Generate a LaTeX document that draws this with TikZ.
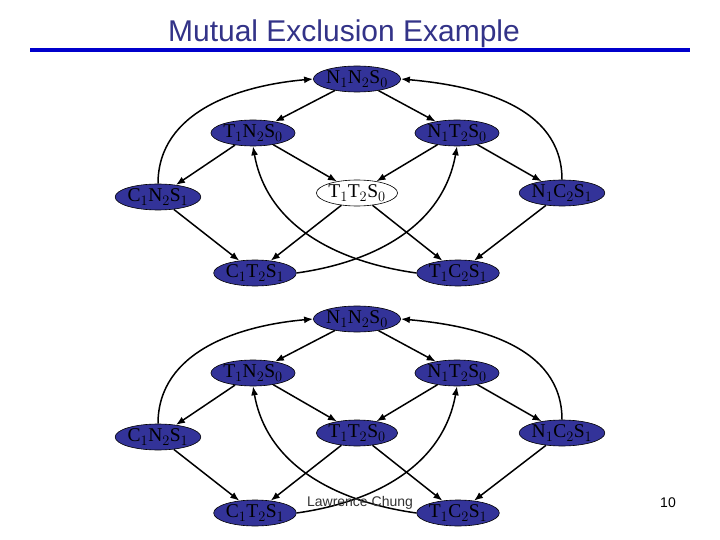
\documentclass[tikz,border=0pt]{standalone}
\usepackage{fontspec}
\setmainfont{Liberation Serif}
\newfontfamily\arialf{Liberation Sans}
\usetikzlibrary{shapes.geometric,arrows.meta}
\definecolor{stblue}{RGB}{51,51,153}
\definecolor{titleblue}{RGB}{51,51,136}
\definecolor{ruleblue}{RGB}{0,0,204}
\tikzset{
  st/.style={ellipse,draw=black,line width=0.6pt,fill=stblue,minimum width=78pt,minimum height=26pt,inner sep=0pt,font=\fontsize{19.5}{21}\selectfont},
  stw/.style={st,fill=white},
  arr/.style={line width=1.5pt,-{Latex[length=9pt,width=7pt]}},
}
\newcommand\mygraph[3]{%
  \begin{scope}[yshift=#2]
  \node[st] (#1nn) at (357,-79) {N$_1$N$_2$S$_0$};
  \node[st] (#1tn) at (253,-133) {T$_1$N$_2$S$_0$};
  \node[st] (#1nt) at (457,-133) {N$_1$T$_2$S$_0$};
  \node[st] (#1cn) at (158,-197) {C$_1$N$_2$S$_1$};
  \node[#3] (#1tt) at (357,-193) {T$_1$T$_2$S$_0$};
  \node[st] (#1nc) at (562,-193) {N$_1$C$_2$S$_1$};
  \node[st] (#1ct) at (255,-273) {C$_1$T$_2$S$_1$};
  \node[st] (#1tc) at (458,-273) {T$_1$C$_2$S$_1$};
  \end{scope}
  \draw[arr] (#1nn) -- (#1tn);
  \draw[arr] (#1nn) -- (#1nt);
  \draw[arr] (#1tn) -- (#1cn);
  \draw[arr] (#1tn) -- (#1tt);
  \draw[arr] (#1nt) -- (#1tt);
  \draw[arr] (#1nt) -- (#1nc);
  \draw[arr] (#1cn) -- (#1ct);
  \draw[arr] (#1tt) -- (#1ct);
  \draw[arr] (#1tt) -- (#1tc);
  \draw[arr] (#1nc) -- (#1tc);
  \draw[arr] (#1cn.north) to[out=90,in=185] (#1nn.west);
  \draw[arr] (#1nc.north) to[out=90,in=-5] (#1nn.east);
  \draw[arr] (#1ct.east) to[out=8,in=-100] (#1nt.south);
  \draw[arr] (#1tc.west) to[out=172,in=-80] (#1tn.south);
}
\begin{document}
\begin{tikzpicture}[x=1pt,y=1pt]
\path[use as bounding box,fill=white] (0,0) rectangle (720,-540);
\node[font=\arialf\fontsize{30}{32}\selectfont,text=titleblue,anchor=base] (title) at (344,-42) {Mutual Exclusion Example};
\fill[ruleblue] (30,-48) rectangle (690,-52);
\mygraph{a}{0pt}{stw}
\mygraph{b}{-240pt}{st}
\node[font=\arialf\fontsize{14}{16}\selectfont,text=black!80] (author) at (360,-503) {Lawrence Chung};
\node[font=\arialf\fontsize{14}{16}\selectfont] (page) at (668,-503) {10};
\end{tikzpicture}
\end{document}
